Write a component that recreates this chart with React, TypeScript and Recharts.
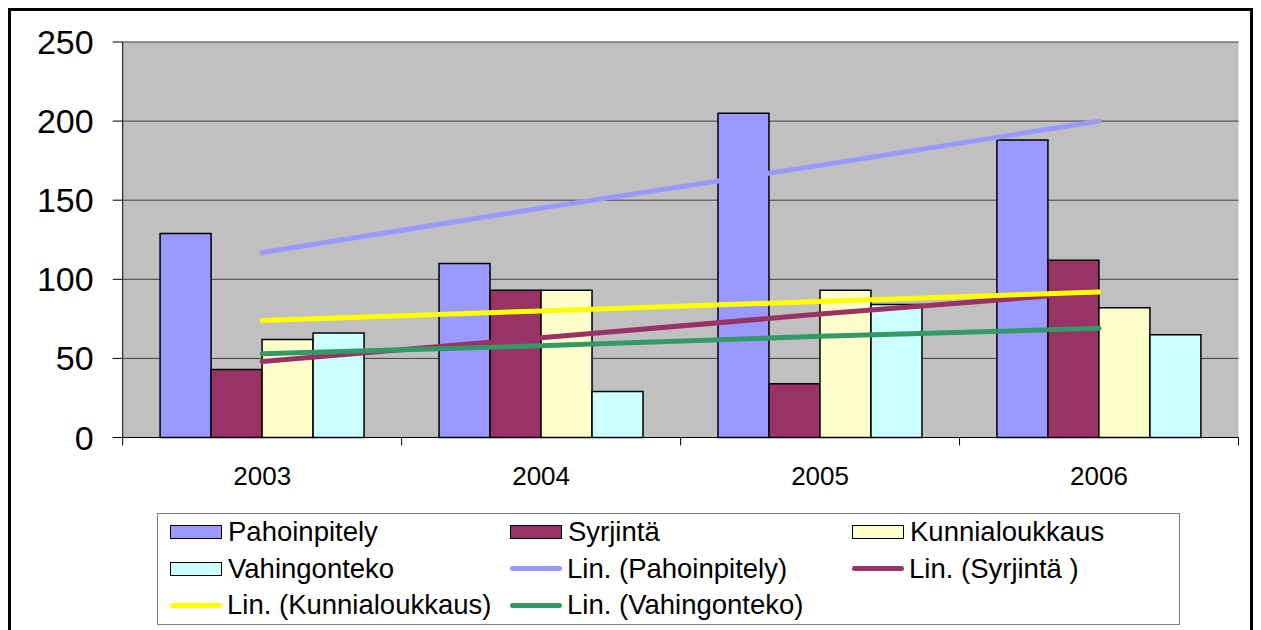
import React from "react";
import {
  ComposedChart,
  Bar,
  Line,
  XAxis,
  YAxis,
  CartesianGrid,
} from "recharts";

const years = ["2003", "2004", "2005", "2006"];
const pahoinpitely = [129, 110, 205, 188];
const syrjinta = [43, 93, 34, 112];
const kunnialoukkaus = [62, 93, 93, 82];
const vahingonteko = [66, 29, 84, 65];

// linear trend lines
const linPahoinpitely = [117, 145, 172, 200];
const linSyrjinta = [48, 63, 78, 92];
const linKunnialoukkaus = [74, 80, 86, 92];
const linVahingonteko = [53, 58, 64, 69];

const yTicks = [0, 50, 100, 150, 200, 250];

const barSeries = [
  { key: "pahoinpitely", name: "Pahoinpitely", color: "#9999FF" },
  { key: "syrjinta", name: "Syrjintä", color: "#993366" },
  { key: "kunnialoukkaus", name: "Kunnialoukkaus", color: "#FFFFCC" },
  { key: "vahingonteko", name: "Vahingonteko", color: "#CCFFFF" },
];
const lineSeries = [
  { key: "linPahoinpitely", name: "Lin. (Pahoinpitely)", color: "#9999FF" },
  { key: "linSyrjinta", name: "Lin. (Syrjintä )", color: "#993366" },
  { key: "linKunnialoukkaus", name: "Lin. (Kunnialoukkaus)", color: "#FFFF00" },
  { key: "linVahingonteko", name: "Lin. (Vahingonteko)", color: "#339966" },
];

const data = years.map((year, i) => ({
  year,
  pahoinpitely: pahoinpitely[i],
  syrjinta: syrjinta[i],
  kunnialoukkaus: kunnialoukkaus[i],
  vahingonteko: vahingonteko[i],
  linPahoinpitely: linPahoinpitely[i],
  linSyrjinta: linSyrjinta[i],
  linKunnialoukkaus: linKunnialoukkaus[i],
  linVahingonteko: linVahingonteko[i],
}));

const FONT = "'Liberation Sans', Arial, sans-serif";
const W = 1261;
const H = 630;
const PLOT_LEFT = 122.7;
const PLOT_RIGHT = 1238.5;
const BAND = (PLOT_RIGHT - PLOT_LEFT) / years.length;

const XTick = (props: any) => {
  const { x, y, payload, index } = props;
  const i = payload?.index ?? index ?? 0;
  const left = x - BAND / 2;
  return (
    <g>
      <line x1={left} y1={y} x2={left} y2={y + 8} stroke="#000" />
      {i === years.length - 1 && (
        <line x1={x + BAND / 2} y1={y} x2={x + BAND / 2} y2={y + 8} stroke="#000" />
      )}
      <text x={x} y={y + 47} textAnchor="middle" fontSize={26} fontFamily={FONT} fill="#000">
        {payload.value}
      </text>
    </g>
  );
};

const legendItems = [...barSeries.map((s) => ({ ...s, type: "bar" })), ...lineSeries.map((s) => ({ ...s, type: "line" }))];

const ChartLegend = () => (
  <div
    style={{
      position: "absolute",
      left: 157,
      top: 513,
      width: 1021,
      height: 110,
      border: "1.5px solid #808080",
      fontFamily: FONT,
      fontSize: 27.5,
      color: "#000",
    }}
  >
    {legendItems.map((item, i) => {
      const col = i % 3;
      const row = Math.floor(i / 3);
      const colX = [12, 352, 694][col];
      return (
        <div
          key={item.key}
          style={{
            position: "absolute",
            left: colX,
            top: 3 + row * 36.5,
            height: 30,
            display: "flex",
            alignItems: "center",
            whiteSpace: "nowrap",
          }}
        >
          {item.type === "bar" ? (
            <span
              style={{
                display: "inline-block",
                width: 50,
                height: 12,
                background: item.color,
                border: "1.5px solid #000",
                marginRight: 6,
              }}
            />
          ) : (
            <span
              style={{
                display: "inline-block",
                width: 52,
                height: 5,
                borderRadius: 3,
                background: item.color,
                marginRight: 5,
              }}
            />
          )}
          <span>{item.name}</span>
        </div>
      );
    })}
  </div>
);

const App: React.FC = () => {
  return (
    <div style={{ position: "absolute", left: 0, top: 0, width: W, height: H, background: "#fff", overflow: "hidden" }}>
      <div
        style={{
          position: "absolute",
          left: 8,
          top: 8,
          width: 1239,
          height: 630,
          border: "3px solid #000",
        }}
      />
      <div style={{ position: "absolute", left: 0, top: 0 }}>
        <ComposedChart
          width={W}
          height={H}
          data={data}
          margin={{ top: 42, right: W - PLOT_RIGHT, left: 0, bottom: 132.5 }}
          barCategoryGap="13.4%"
          barGap={0}
        >
          <CartesianGrid
            horizontal
            vertical={false}
            stroke="#404040"
            fill="#C0C0C0"
            fillOpacity={1}
          />
          <XAxis
            dataKey="year"
            height={60}
            axisLine={{ stroke: "#000" }}
            tickLine={false}
            tickSize={0}
            tickMargin={0}
            tick={<XTick />}
            interval={0}
          />
          <YAxis
            domain={[0, 250]}
            ticks={yTicks}
            width={PLOT_LEFT}
            axisLine={{ stroke: "#000" }}
            tickLine={{ stroke: "#000" }}
            tickSize={10}
            tickMargin={19}
            tick={{ fontSize: 34, fontFamily: FONT, fill: "#000" }}
          />
          <YAxis
            yAxisId="r"
            orientation="right"
            width={0}
            tick={false}
            tickLine={false}
            axisLine={{ stroke: "#808080", strokeWidth: 2 }}
          />
          {barSeries.map((s) => (
            <Bar
              key={s.key}
              dataKey={s.key}
              name={s.name}
              fill={s.color}
              stroke="#000"
              strokeWidth={1.5}
              isAnimationActive={false}
            />
          ))}
          {lineSeries.map((s) => (
            <Line
              key={s.key}
              dataKey={s.key}
              name={s.name}
              type="linear"
              stroke={s.color}
              strokeWidth={5}
              strokeLinecap="round"
              dot={false}
              activeDot={false}
              isAnimationActive={false}
            />
          ))}
        </ComposedChart>
      </div>
      <ChartLegend />
    </div>
  );
};

export default App;
